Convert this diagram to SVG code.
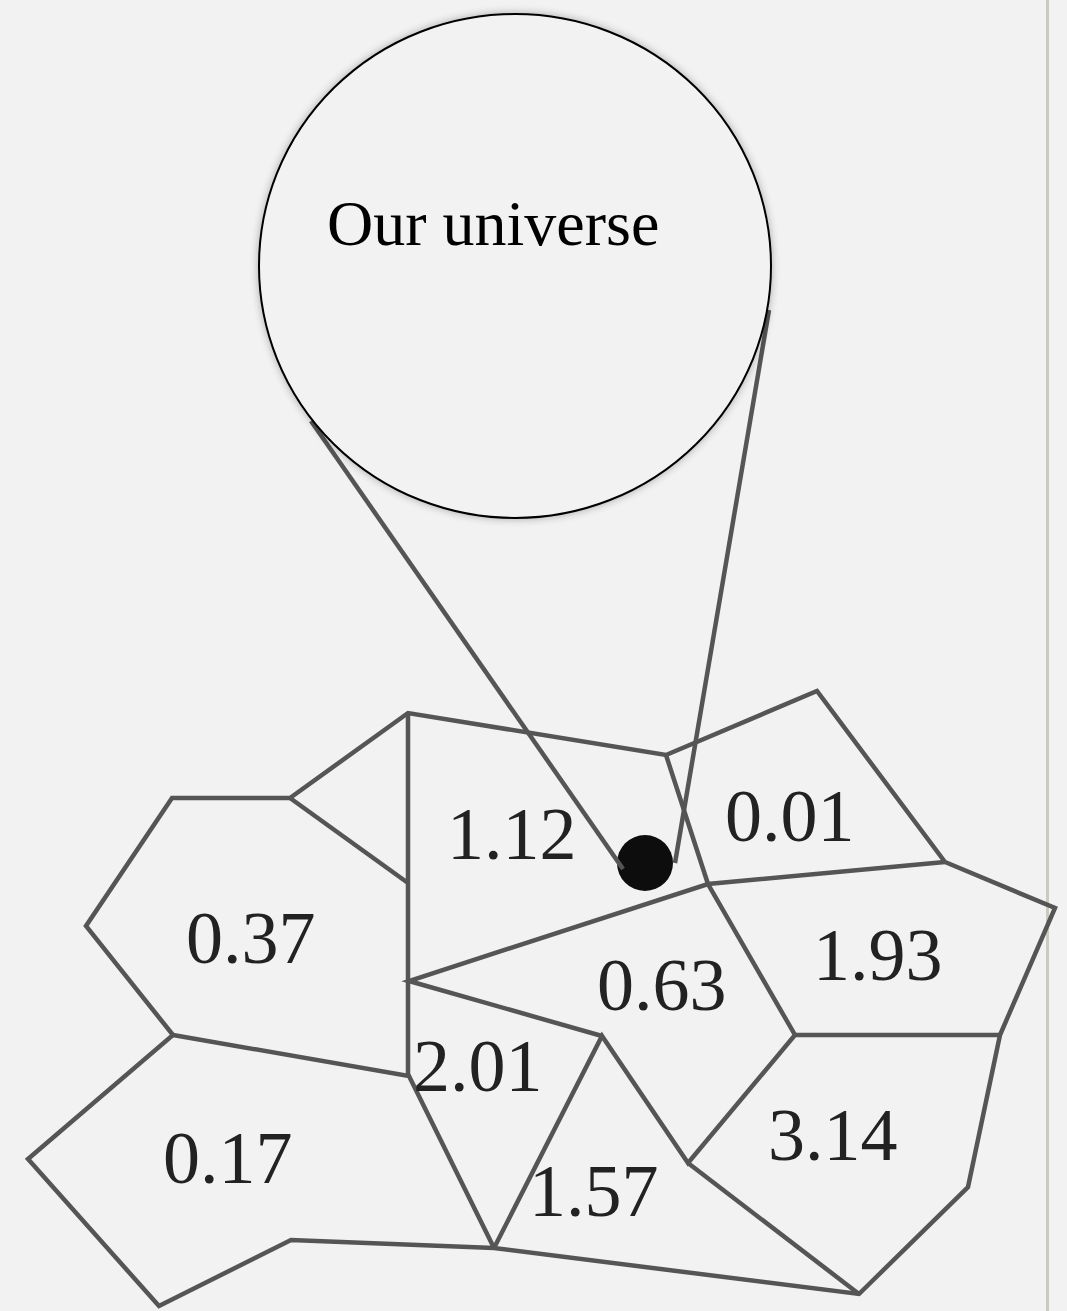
<svg xmlns="http://www.w3.org/2000/svg" width="1067" height="1311" viewBox="0 0 1067 1311">
<defs>
<style>
.edge{fill:none;stroke:#555555;stroke-width:4.5;stroke-linejoin:miter;stroke-linecap:butt}
.lbl{font-family:"Liberation Serif","Times New Roman",serif;font-size:74px;fill:#222222}
.title{font-family:"Liberation Serif","Times New Roman",serif;font-size:64px;fill:#000000}
</style>
<filter id="glow" x="-10%" y="-10%" width="120%" height="120%">
<feGaussianBlur in="SourceAlpha" stdDeviation="4"/>
<feComponentTransfer><feFuncA type="linear" slope="0.3"/></feComponentTransfer>
<feMerge><feMergeNode/><feMergeNode in="SourceGraphic"/></feMerge>
</filter>
</defs>
<rect x="0" y="0" width="1067" height="1311" fill="#f2f2f2"/>
<line x1="1047.5" y1="0" x2="1047.5" y2="1311" stroke="#c9cbc0" stroke-width="3"/>
<g id="cells-edges" class="connectors">
<path class="edge" d="M290 798 L408 713 L666 755 L817 691 L945 862 L1055 908 L1000 1035 L968 1187 L859 1294 L494 1248 L291 1240 L159 1306 L28 1159 L173 1035 L86 926 L172 798 Z"/>
<path class="edge" d="M408 713 L408 1076"/>
<path class="edge" d="M290 798 L408 883"/>
<path class="edge" d="M173 1035 L409 1076 L494 1248"/>
<path class="edge" d="M666 755 L708 884 L795 1035 L688 1163 L602 1036 L494 1248"/>
<path class="edge" d="M945 862 L708 884 L409 981 L602 1036"/>
<path class="edge" d="M795 1035 L1000 1035"/>
<path class="edge" d="M688 1163 L859 1294"/>
</g>
<g id="dot">
<circle cx="645" cy="863" r="28" fill="#0d0d0d"/>
</g>
<g id="zoom-lines" class="connectors">
<path class="edge" d="M311 421 L623 869"/>
<path class="edge" d="M769 310 L675 863"/>
</g>
<g id="universe">
<ellipse cx="515" cy="266" rx="256" ry="252" fill="#f2f2f2" stroke="#000000" stroke-width="2" filter="url(#glow)"/>
<text class="title" x="327" y="245">Our universe</text>
</g>
<g id="cell-112"><text class="lbl" x="447" y="859">1.12</text></g>
<g id="cell-001"><text class="lbl" x="725" y="841">0.01</text></g>
<g id="cell-037"><text class="lbl" x="186" y="963">0.37</text></g>
<g id="cell-063"><text class="lbl" x="597" y="1010">0.63</text></g>
<g id="cell-193"><text class="lbl" x="813" y="980">1.93</text></g>
<g id="cell-201"><text class="lbl" x="413" y="1091">2.01</text></g>
<g id="cell-314"><text class="lbl" x="768" y="1160">3.14</text></g>
<g id="cell-017"><text class="lbl" x="163" y="1183">0.17</text></g>
<g id="cell-157"><text class="lbl" x="529" y="1216">1.57</text></g>
</svg>
